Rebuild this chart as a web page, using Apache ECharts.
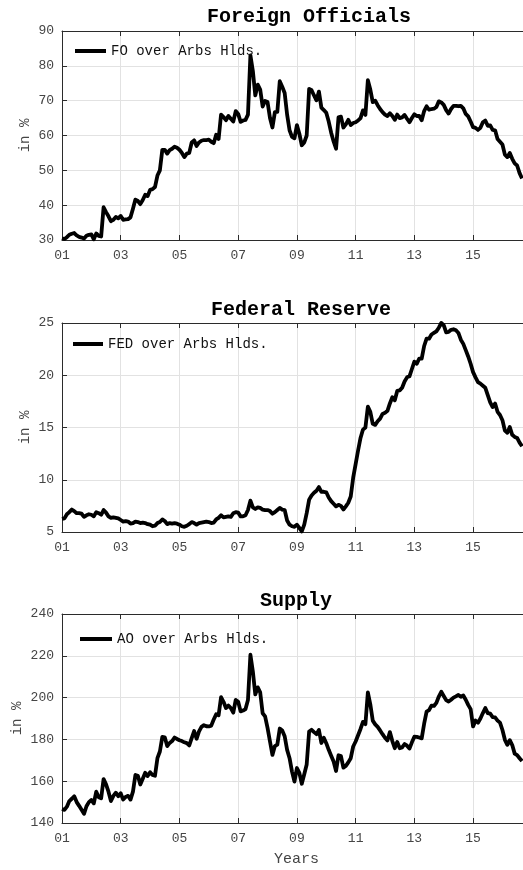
<!DOCTYPE html>
<html>
<head>
<meta charset="utf-8">
<script src="https://cdn.jsdelivr.net/npm/echarts@6/dist/echarts.min.js"></script>
<style>
  html, body { margin: 0; padding: 0; background: #fff; }
  #chart { width: 523px; height: 870px; }
</style>
</head>
<body>
<div id="chart"></div>
<script>
// Monthly ratios, January 2001 onwards (in %)
const foOverArbs = [
  30.5, 30.3, 30.8, 31.5, 31.8, 32.0, 31.3, 30.9, 30.7, 30.4, 31.2, 31.5,
  31.6, 30.2, 31.9, 31.2, 31.0, 39.4, 38.0, 36.8, 35.4, 35.8, 36.6, 36.2,
  36.9, 35.8, 35.9, 36.0, 36.5, 39.0, 41.6, 41.2, 40.3, 41.5, 43.0, 42.6,
  44.4, 44.6, 45.2, 48.5, 50.0, 55.9, 55.9, 54.8, 55.8, 56.2, 56.8, 56.5,
  55.9, 55.0, 53.8, 54.8, 55.0, 58.0, 58.6, 57.0, 58.0, 58.5, 58.7, 58.7,
  58.8, 58.2, 57.8, 60.2, 59.0, 66.0, 65.3, 64.4, 65.6, 64.8, 64.0, 67.0,
  66.2, 63.9, 64.3, 64.5, 66.0, 83.0, 78.5, 71.5, 74.6, 73.2, 68.3, 69.9,
  69.6, 65.0, 62.3, 66.7, 66.8, 75.6, 74.0, 72.2, 66.0, 61.5, 59.6, 59.2,
  63.0, 60.5, 57.2, 58.0, 60.0, 73.4, 73.0, 71.5, 70.1, 72.6, 68.0, 67.3,
  66.5, 64.0, 60.8, 58.3, 56.2, 65.2, 65.4, 62.3, 63.2, 64.5, 63.0, 63.6,
  63.8, 64.3, 65.0, 67.2, 65.9, 75.9, 73.2, 69.6, 70.0, 68.7, 67.6, 66.7,
  66.0, 65.6, 66.4, 65.6, 64.5, 66.0, 65.0, 65.2, 65.9, 64.8, 63.8, 65.0,
  66.1, 65.6, 65.6, 64.4, 67.0, 68.4, 67.4, 67.6, 67.7, 68.2, 69.8, 69.5,
  68.8, 67.3, 66.3, 67.6, 68.5, 68.5, 68.4, 68.5, 67.8, 66.2, 65.5, 64.0,
  62.4, 62.2, 61.6, 62.2, 63.8, 64.3, 62.8, 62.9, 61.6, 61.5, 59.0, 58.2,
  57.4, 54.5, 53.8, 55.0, 53.3, 52.0, 51.4, 49.2, 47.7
];

const fedOverArbs = [
  6.25, 6.3, 6.7, 6.9, 7.15, 7.0, 6.8, 6.8, 6.75, 6.45, 6.6, 6.7,
  6.65, 6.5, 6.9, 6.8, 6.65, 7.1, 6.85, 6.5, 6.35, 6.4, 6.35, 6.3,
  6.15, 6.0, 6.05, 6.0, 5.8, 5.85, 6.0, 5.95, 5.85, 5.9, 5.85, 5.75,
  5.7, 5.55, 5.6, 5.85, 5.95, 6.2, 6.05, 5.75, 5.85, 5.8, 5.85, 5.8,
  5.7, 5.55, 5.5, 5.6, 5.75, 5.95, 5.85, 5.7, 5.85, 5.9, 5.95, 6.0,
  5.95, 5.85, 5.9, 6.2, 6.35, 6.6, 6.4, 6.45, 6.5, 6.45, 6.8, 6.9,
  6.85, 6.5, 6.5, 6.6, 7.1, 8.0, 7.35, 7.2, 7.35, 7.3, 7.15, 7.1,
  7.1, 7.0, 6.75, 6.9, 7.1, 7.3, 7.15, 7.1, 6.1, 5.7, 5.55, 5.5,
  5.7, 5.4, 5.05, 5.7, 6.8, 8.1, 8.5, 8.75, 8.95, 9.3, 8.85, 8.85,
  8.8, 8.3, 7.95, 7.7, 7.45, 7.6, 7.5, 7.15, 7.45, 7.8, 8.4, 10.2,
  11.5, 12.8, 14.0, 14.8, 15.0, 17.0, 16.5, 15.35, 15.25, 15.6, 15.85, 16.3,
  16.4, 16.6, 17.3, 17.9, 17.6, 18.5, 18.55, 18.8, 19.4, 19.8, 19.9, 20.6,
  21.3, 21.1, 21.6, 21.6, 22.8, 23.5, 23.5, 23.9, 24.05, 24.2, 24.55, 25.0,
  24.8, 24.1, 24.15, 24.35, 24.4, 24.3, 24.05, 23.4, 23.0, 22.4, 21.8, 21.1,
  20.3, 19.8, 19.35, 19.2, 19.0, 18.8, 18.1, 17.4, 16.95, 17.3, 16.5, 16.2,
  15.7, 14.7, 14.5, 15.05, 14.3, 14.1, 14.0, 13.55, 13.2
];

const aoOverArbs = [
  146.7, 146.3, 147.8, 150.5, 151.6, 152.8, 150.0, 148.2, 146.3, 144.4, 148.0, 150.0,
  151.0, 149.4, 155.0, 152.3, 151.8, 161.0, 158.5, 155.0, 150.5, 153.0, 154.5, 152.8,
  154.2, 151.2, 152.5, 153.0, 151.2, 155.0, 163.0, 162.6, 158.4, 161.2, 164.0, 162.5,
  164.3, 163.0, 162.6, 171.0, 174.2, 181.2, 181.0, 176.8, 178.3, 179.2, 180.9, 180.2,
  179.6, 179.2, 178.6, 178.2, 177.1, 180.6, 184.0, 180.3, 183.8, 186.0, 186.8, 186.3,
  186.2, 186.6, 189.5, 192.0, 191.5, 200.2, 198.0, 195.0, 196.2, 195.0, 192.8, 198.9,
  198.0, 193.4, 193.8, 194.5, 198.9, 220.5, 212.5, 201.5, 204.9, 202.5, 192.5, 191.0,
  185.5, 179.0, 172.6, 176.8, 177.5, 185.2, 184.3, 181.5, 175.0, 171.0, 164.6, 159.8,
  166.3, 164.0, 158.8, 163.3, 168.0, 183.8, 184.6, 183.5, 182.5, 184.5, 178.3, 180.8,
  178.2, 175.0, 172.2, 169.4, 164.9, 172.4, 172.0, 166.5, 167.3, 169.0, 171.0, 176.6,
  179.0, 182.0, 185.0, 188.4, 187.3, 202.5, 196.8, 189.0, 187.2, 186.0, 184.3, 182.5,
  180.8, 179.5, 183.5, 179.2, 175.8, 178.8, 175.8, 176.2, 177.8, 177.0, 175.6, 178.6,
  181.3, 181.2, 180.9, 180.5, 187.5, 193.3, 194.0, 196.2, 196.0, 197.5, 200.5, 202.8,
  200.8, 198.8, 198.1, 199.0, 200.0, 200.6, 201.3, 200.4, 201.0, 199.0, 196.5, 194.5,
  186.2, 189.0, 188.0, 190.0, 192.6, 195.0, 192.6, 192.3, 190.7, 190.5, 189.0, 188.0,
  184.5, 179.8, 177.4, 179.6, 177.3, 173.2, 172.5, 171.0, 169.6
];

// Two-digit year labels for the ticks every two years, starting 2001
const yearLabels = ['01', '03', '05', '07', '09', '11', '13', '15'];

const panelTitles = ['Foreign Officials', 'Federal Reserve', 'Supply'];
const seriesNames = ['FO over Arbs Hlds.', 'FED over Arbs Hlds.', 'AO over Arbs Hlds.'];
const seriesValues = [foOverArbs, fedOverArbs, aoOverArbs];
const yMins = [30, 5, 140];
const yMaxs = [90, 25, 240];
const ySteps = [10, 5, 20];

const FONT = "'Liberation Mono', 'DejaVu Sans Mono', monospace";
const AXIS_COLOR = '#2b2b2b';
const LABEL_COLOR = '#454545';
const GRID_COLOR = '#e2e2e2';

// layout of the three stacked panels
const gridTops = [31, 323, 614];
const gridHeight = 209;
const titleCenters = [309, 301, 296];
const titleTops = [7, 300, 591];
const legendLefts = [75, 73, 80];
const legendTops = [44, 337, 632];
const legendIconWidths = [31, 30, 32];
const yNameGaps = [30, 30, 38];

const X_MAX = 15.7; // years after January 2001 shown on the axis

const grids = [], xAxes = [], yAxes = [], series = [], titles = [], legends = [];

panelTitles.forEach((title, k) => {
  grids.push({
    left: 62, right: 0, top: gridTops[k], height: gridHeight,
    containLabel: false, outerBoundsMode: 'none'
  });

  titles.push({
    text: title,
    left: titleCenters[k],
    top: titleTops[k],
    padding: 0,
    textAlign: 'center',
    textStyle: { fontFamily: FONT, fontSize: 20, fontWeight: 'bold', color: '#000' }
  });

  legends.push({
    data: [seriesNames[k]],
    left: legendLefts[k],
    top: legendTops[k],
    icon: 'rect',
    itemWidth: legendIconWidths[k],
    itemHeight: 4,
    selectedMode: false,
    padding: 0,
    textStyle: { fontFamily: FONT, fontSize: 14, color: '#111' }
  });

  const xBase = {
    type: 'value',
    gridIndex: k,
    min: 0,
    max: X_MAX,
    interval: 2,
    axisLine: { show: true, onZero: false, lineStyle: { color: AXIS_COLOR, width: 1 } },
    axisTick: { show: true, inside: true, length: 5, lineStyle: { color: AXIS_COLOR } }
  };

  xAxes.push(Object.assign({}, xBase, {
    position: 'bottom',
    axisLabel: {
      show: true,
      margin: 9,
      showMaxLabel: false,
      fontFamily: FONT,
      fontSize: 13,
      color: LABEL_COLOR,
      formatter: v => yearLabels[Math.round(v / 2)] || ''
    },
    splitLine: { show: true, lineStyle: { color: GRID_COLOR, width: 1 } },
    name: k === 2 ? 'Years' : '',
    nameLocation: 'middle',
    nameGap: 29,
    nameMoveOverlap: false,
    nameTextStyle: { fontFamily: FONT, fontSize: 15, color: LABEL_COLOR, padding: [0, 0, 0, 8] }
  }));

  xAxes.push(Object.assign({}, xBase, {
    position: 'top',
    axisLabel: { show: false },
    splitLine: { show: false }
  }));

  yAxes.push({
    type: 'value',
    gridIndex: k,
    min: yMins[k],
    max: yMaxs[k],
    interval: ySteps[k],
    axisLine: { show: true, lineStyle: { color: AXIS_COLOR, width: 1 } },
    axisTick: { show: true, inside: true, length: 5, lineStyle: { color: AXIS_COLOR } },
    axisLabel: { margin: 8, fontFamily: FONT, fontSize: 13, color: LABEL_COLOR },
    splitLine: { show: true, lineStyle: { color: GRID_COLOR, width: 1 } },
    name: 'in %',
    nameLocation: 'middle',
    nameGap: yNameGaps[k],
    nameMoveOverlap: false,
    nameTextStyle: { fontFamily: FONT, fontSize: 14, color: LABEL_COLOR }
  });

  series.push({
    name: seriesNames[k],
    type: 'line',
    xAxisIndex: 2 * k,
    yAxisIndex: k,
    data: seriesValues[k].map((v, i) => [i / 12, v]),
    showSymbol: false,
    symbol: 'none',
    color: '#000',
    lineStyle: { color: '#000', width: 3.8, join: 'round' },
    animation: false,
    z: 3
  });
});

const chart = echarts.init(document.getElementById('chart'), null, { renderer: 'canvas' });
chart.setOption({
  backgroundColor: '#fff',
  animation: false,
  title: titles,
  legend: legends,
  grid: grids,
  xAxis: xAxes,
  yAxis: yAxes,
  series: series
});
</script>
</body>
</html>
